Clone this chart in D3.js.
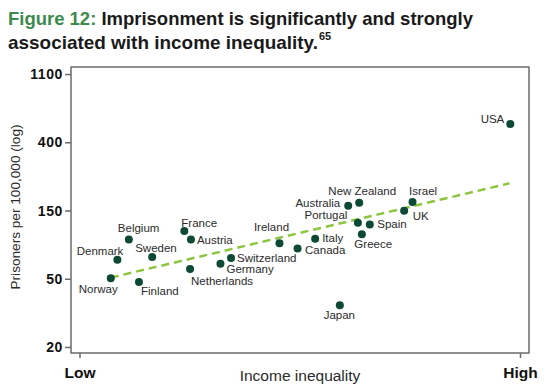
<!DOCTYPE html>
<html>
<head>
<meta charset="utf-8">
<title>Figure 12</title>
<style>
  body { margin: 0; background: #fff; }
  svg { display: block; font-family: "Liberation Sans", Arial, sans-serif; }
  .axis path, .axis line { stroke: #6b6b6b; stroke-width: 1.5; }
  .axis text { fill: #111; font-weight: bold; }
  .lbl { font-size: 11.5px; fill: #2b2b2b; }
</style>
</head>
<body>
<svg width="546" height="390"></svg>
<script src="https://d3js.org/d3.v7.min.js"></script>
<script>
// data (x = inequality index, 0 = Low .. 100 = High)
var countries = ["Norway","Denmark","Belgium","Finland","Sweden","France","Netherlands","Austria",
                 "Germany","Switzerland","Ireland","Canada","Italy","Japan","Australia","Portugal",
                 "New Zealand","Greece","Spain","UK","Israel","USA"];
var inequality = [7.1, 8.6, 11.2, 13.5, 16.5, 23.8, 25.1, 25.3,
                  32.0, 34.4, 45.4, 49.5, 53.5, 59.1, 61.0, 63.2,
                  63.5, 64.1, 65.9, 73.7, 75.6, 97.8];
var prisoners = [55, 72, 97, 52, 75, 110, 63, 97,
                 68, 74, 92, 85, 98, 37, 159, 124,
                 166, 105, 121, 148, 168, 527];
var trendX = [7.1, 97.6];
var trendY = [55.5, 221];
var yTicks = [20.09, 54.6, 148.4, 403.4, 1096.6];
var yTickLabels = ["20", "50", "150", "400", "1100"];
var xTicks = [0, 100];
var xTickLabels = ["Low", "High"];

// label placement: anchor, dx, dy
var place = {
  "Norway": ["end", 7, 15], "Denmark": ["end", 6, -5], "Belgium": ["start", -11, -8],
  "Finland": ["start", 2, 12.5], "Sweden": ["start", -17, -5], "France": ["start", -3, -4],
  "Netherlands": ["start", 1, 16], "Austria": ["start", 6, 4], "Germany": ["start", 6, 9.5],
  "Switzerland": ["start", 6, 3.5], "Ireland": ["middle", -8, -12], "Canada": ["start", 7.5, 5],
  "Italy": ["start", 7, 3.5], "Japan": ["middle", -0.5, 13.5], "Australia": ["end", -8, 1],
  "Portugal": ["end", -10.5, -3.5], "New Zealand": ["middle", 3, -7.5], "Greece": ["start", -7.5, 13.5],
  "Spain": ["start", 7.5, 4], "UK": ["start", 8.5, 9.5], "Israel": ["start", -3.5, -7],
  "USA": ["end", -6, -1.5]
};
</script>
<script>
var svg = d3.select("svg");
var pLeft = 71, pRight = 529, pTop = 67, pBottom = 353;

var x = d3.scaleLinear().domain([0, 100]).range([79.5, 520]);
var y = d3.scaleLog().domain([Math.exp(2.912), Math.exp(7.103)]).range([pBottom, pTop]);

// title
var t1 = svg.append("text").attr("x", 8).attr("y", 25)
  .attr("font-size", 19).attr("font-weight", "bold").attr("textLength", 465)
  .attr("lengthAdjust", "spacingAndGlyphs");
t1.append("tspan").attr("fill", "#3d8b4c").text("Figure 12: ");
t1.append("tspan").attr("fill", "#1a1a1a").text("Imprisonment is significantly and strongly");
svg.append("text").attr("x", 8).attr("y", 49)
  .attr("font-size", 19).attr("font-weight", "bold").attr("fill", "#1a1a1a")
  .attr("textLength", 310).attr("lengthAdjust", "spacingAndGlyphs")
  .text("associated with income inequality.");
svg.append("text").attr("x", 319).attr("y", 40)
  .attr("font-size", 11).attr("font-weight", "bold").attr("fill", "#1a1a1a").text("65");

// frame
svg.append("rect").attr("x", pLeft).attr("y", pTop)
  .attr("width", pRight - pLeft).attr("height", pBottom - pTop)
  .attr("fill", "none").attr("stroke", "#6b6b6b").attr("stroke-width", 1.5);

var yAxis = svg.append("g").attr("class", "axis")
  .attr("transform", "translate(" + pLeft + ",0)")
  .call(d3.axisLeft(y).tickValues(yTicks)
    .tickFormat(function(d, i) { return yTickLabels[i]; })
    .tickSize(6).tickPadding(2).tickSizeOuter(0));
yAxis.select(".domain").remove();
yAxis.selectAll("text").attr("font-size", 14).attr("letter-spacing", 0.6);

var xAxis = svg.append("g").attr("class", "axis")
  .attr("transform", "translate(0," + pBottom + ")")
  .call(d3.axisBottom(x).tickValues(xTicks)
    .tickFormat(function(d, i) { return xTickLabels[i]; })
    .tickSize(5).tickPadding(9).tickSizeOuter(0));
xAxis.select(".domain").remove();
xAxis.selectAll("text").attr("font-size", 15.5);

// axis titles
svg.append("text").attr("x", (pLeft + pRight) / 2).attr("y", 381)
  .attr("text-anchor", "middle").attr("font-size", 15.5).attr("fill", "#2b2b2b")
  .text("Income inequality");
svg.append("text")
  .attr("transform", "translate(20,207) rotate(-90)")
  .attr("text-anchor", "middle").attr("font-size", 13).attr("fill", "#2b2b2b")
  .attr("textLength", 165).attr("lengthAdjust", "spacingAndGlyphs")
  .text("Prisoners per 100,000 (log)");

// trend line
var line = d3.line().x(function(d) { return x(d[0]); }).y(function(d) { return y(d[1]); });
svg.append("path").datum(d3.zip(trendX, trendY))
  .attr("d", line).attr("fill", "none")
  .attr("stroke", "#8cc63f").attr("stroke-width", 2.5).attr("stroke-dasharray", "8,5");

// points
var pts = countries.map(function(c, i) { return { name: c, x: inequality[i], y: prisoners[i] }; });
svg.selectAll("circle.pt").data(pts).enter().append("circle")
  .attr("class", "pt")
  .attr("cx", function(d) { return x(d.x); })
  .attr("cy", function(d) { return y(d.y); })
  .attr("r", 4).attr("fill", "#0c4a35");

svg.selectAll("text.lbl").data(pts).enter().append("text")
  .attr("class", "lbl")
  .attr("x", function(d) { return x(d.x) + place[d.name][1]; })
  .attr("y", function(d) { return y(d.y) + place[d.name][2]; })
  .attr("text-anchor", function(d) { return place[d.name][0]; })
  .text(function(d) { return d.name; });
</script>
</body>
</html>
